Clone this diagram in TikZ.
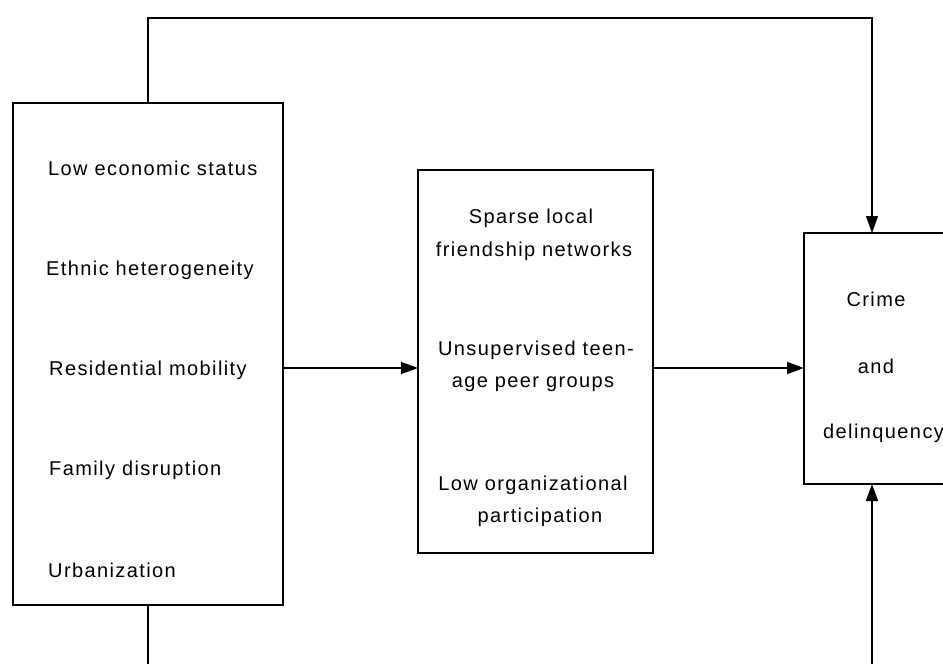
\documentclass[tikz,border=0pt]{standalone}
\usepackage{fontspec}
\setmainfont{Liberation Sans}[LetterSpace=7]
\usetikzlibrary{arrows.meta}
\begin{document}
\begin{tikzpicture}[x=1pt,y=-1pt,
  box/.style={draw,line width=1.7pt,inner sep=0pt,outer sep=0pt},
  conn/.style={line width=1.4pt},
  arr/.style={conn,-{Triangle[length=17pt,width=12pt]}},
  lbl/.style={font=\fontsize{20}{24}\selectfont,inner sep=0pt}]
\useasboundingbox (0,0) rectangle (943,664);
\clip (0,0) rectangle (943,664);
% boxes
\node[box,minimum width=270pt,minimum height=502pt] (L) at (148,354) {};
\node[box,minimum width=235pt,minimum height=383pt] (M) at (535.5,361.5) {};
\node[box,minimum width=144pt,minimum height=251pt] (R) at (876,358.5) {};
% left texts
\node[lbl,anchor=base west] (l1) at (48,175) {Low economic status};
\node[lbl,anchor=base west] (l2) at (46,275) {Ethnic heterogeneity};
\node[lbl,anchor=base west] (l3) at (49,375) {Residential mobility};
\node[lbl,anchor=base west] (l4) at (49,475) {Family disruption};
\node[lbl,anchor=base west] (l5) at (48,577) {Urbanization};
% middle texts
\node[lbl,anchor=base] (m1) at (531,223) {Sparse local};
\node[lbl,anchor=base] (m2) at (534,256) {friendship networks};
\node[lbl,anchor=base] (m3) at (536,355) {Unsupervised teen-};
\node[lbl,anchor=base] (m4) at (533,387) {age peer groups};
\node[lbl,anchor=base] (m5) at (533,490) {Low organizational};
\node[lbl,anchor=base] (m6) at (540,522) {participation};
% right texts
\node[lbl,anchor=base] (r1) at (876,306) {Crime};
\node[lbl,anchor=base] (r2) at (876,373) {and};
\node[lbl,anchor=base west] (r3) at (823,438) {delinquency};
% connectors
\coordinate (top1) at (148,18);
\coordinate (top2) at (872,18);
\coordinate (bot1) at (148,670);
\coordinate (bot2) at (872,670);
\coordinate (h) at (0,368);
\draw[arr,line join=miter] (L.north) -- (top1) -- (top2) -- (top2 |- R.north);
\draw[conn] (L.south) -- (bot1);
\draw[arr] (bot2) -- (bot2 |- R.south);
\draw[arr] (L.east |- h) -- (M.west |- h);
\draw[arr] (M.east |- h) -- (R.west |- h);
\end{tikzpicture}
\end{document}
